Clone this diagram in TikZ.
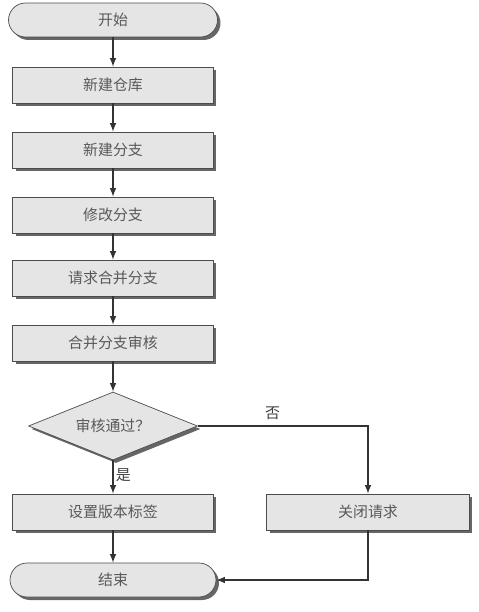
\documentclass[tikz,border=0pt]{standalone}
\usepackage{fontspec}
\newfontfamily\cjk{Noto Sans CJK SC}
\usetikzlibrary{shapes,shadows}

\begin{document}
\begin{tikzpicture}[x=0.02cm,y=-0.02cm,
  box/.style={draw=black!70,fill=black!10,minimum width=4.02cm,minimum height=0.72cm,
    font=\cjk\fontsize{8.5}{10}\selectfont,text=black!65,
    drop shadow={shadow xshift=0.06cm,shadow yshift=-0.06cm,fill=black!60,opacity=1}},
  term/.style={box,rounded corners=0.34cm,minimum height=0.68cm},
  test/.style={box,diamond,aspect=2.5,inner sep=0pt,minimum width=3.38cm,minimum height=1.36cm},
  line/.style={draw=black!80,line width=0.7pt,-latex},
  tag/.style={font=\cjk\fontsize{8.5}{10}\selectfont,text=black!75}]
\useasboundingbox (0,0) rectangle (479,612);
\node[term,minimum width=4.18cm] (start) at (113,20) {开始};
\node[box] (repo) at (113,85) {新建仓库};
\node[box] (branch) at (113,150) {新建分支};
\node[box] (edit) at (113,215) {修改分支};
\node[box] (request) at (113,278) {请求合并分支};
\node[box] (review) at (113,343) {合并分支审核};
\node[test] (check) at (113,426) {审核通过？};
\node[box] (label) at (113,512) {设置版本标签};
\node[box,minimum width=4.06cm] (close) at (368,512) {关闭请求};
\node[term,minimum width=4.12cm] (stop) at (113,580) {结束};
\foreach \a/\b in {start/repo,repo/branch,branch/edit,edit/request,request/review,review/check,label/stop}
  \draw[line] (\a) -- (\b);
\draw[line] (check) -- node[tag,right=-2pt,pos=0.45] {是} (label);
\draw[line] (check.east) -| node[tag,above,pos=0.22] {否} (close);
\draw[line] (close) |- (stop);
\end{tikzpicture}
\end{document}
